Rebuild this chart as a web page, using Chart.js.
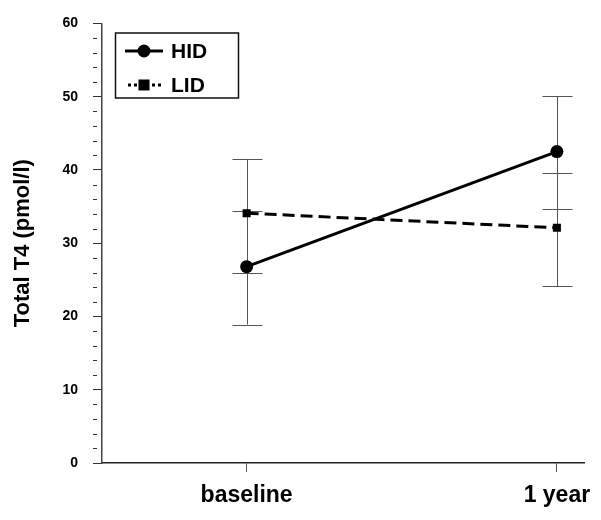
<!DOCTYPE html>
<html>
<head>
<meta charset="utf-8">
<script src="https://cdn.jsdelivr.net/npm/chart.js@4/dist/chart.umd.min.js"></script>
<style>
  html, body { margin: 0; padding: 0; background: #fff; }
  #wrap { width: 601px; height: 520px; }
</style>
</head>
<body>
<div id="wrap"><canvas id="c" width="601" height="520"></canvas></div>
<script>
// ---- data ----
const categories = ['baseline', '1 year'];
const seriesNames = ['HID', 'LID'];
const hidMean = [26.8, 42.5];
const hidLow  = [18.9, 34.6];
const hidHigh = [34.4, 50.1];
const lidMean = [34.1, 32.1];
const lidLow  = [26.0, 24.1];
const lidHigh = [41.5, 39.6];
const yMajorTicks = [0, 10, 20, 30, 40, 50, 60];
const yMinorStep = 2;

const FONT = '"Liberation Sans", Arial, sans-serif';

function toPoints(arr) { return arr.map((v, i) => ({ x: i, y: v })); }

const errorBars = [
  { low: hidLow, high: hidHigh },
  { low: lidLow, high: lidHigh }
];

const errorBarPlugin = {
  id: 'errorBars',
  beforeDatasetsDraw(chart) {
    const { ctx, scales: { x, y } } = chart;
    ctx.save();
    ctx.strokeStyle = '#555';
    ctx.lineWidth = 1;
    errorBars.forEach(eb => {
      eb.low.forEach((lo, i) => {
        const px = Math.round(x.getPixelForValue(i)) + 0.5;
        const pl = y.getPixelForValue(lo);
        const ph = y.getPixelForValue(eb.high[i]);
        ctx.beginPath();
        ctx.moveTo(px, pl); ctx.lineTo(px, ph);
        ctx.moveTo(px - 15, Math.round(pl) + 0.5); ctx.lineTo(px + 15, Math.round(pl) + 0.5);
        ctx.moveTo(px - 15, Math.round(ph) + 0.5); ctx.lineTo(px + 15, Math.round(ph) + 0.5);
        ctx.stroke();
      });
    });
    ctx.restore();
  }
};

const minorTickPlugin = {
  id: 'minorTicks',
  afterDraw(chart) {
    const { ctx, scales: { y } } = chart;
    ctx.save();
    ctx.strokeStyle = '#333';
    ctx.lineWidth = 1;
    for (let v = y.min; v <= y.max; v += yMinorStep) {
      if (yMajorTicks.includes(v)) continue;
      const py = Math.round(y.getPixelForValue(v)) + 0.5;
      ctx.beginPath();
      ctx.moveTo(y.right - 9, py);
      ctx.lineTo(y.right - 5, py);
      ctx.stroke();
    }
    ctx.restore();
  }
};

const boxLegendPlugin = {
  id: 'boxLegend',
  afterDraw(chart) {
    const { ctx } = chart;
    ctx.save();
    ctx.strokeStyle = '#111';
    ctx.lineWidth = 1.5;
    ctx.strokeRect(115.5, 33, 123, 65);
    const rows = [
      { y: 51, dash: [], x0: 125, x1: 163, style: 'circle', r: 5 },
      { y: 85, dash: [3, 3], x0: 128, x1: 162, style: 'rect', r: 5.7 }
    ];
    chart.data.datasets.forEach((ds, i) => {
      const row = rows[i];
      ctx.strokeStyle = '#000';
      ctx.fillStyle = '#000';
      ctx.lineWidth = 3;
      ctx.setLineDash(row.dash);
      ctx.beginPath();
      ctx.moveTo(row.x0, row.y); ctx.lineTo(row.x1, row.y);
      ctx.stroke();
      ctx.setLineDash([]);
      Chart.helpers.drawPoint(ctx, { pointStyle: row.style, radius: row.r, borderWidth: 1 }, 144, row.y);
      ctx.font = 'bold 21px ' + FONT;
      ctx.textBaseline = 'middle';
      ctx.textAlign = 'left';
      ctx.fillText(ds.label, 171, row.y + 1);
    });
    ctx.restore();
  }
};

new Chart(document.getElementById('c'), {
  type: 'line',
  data: {
    datasets: [
      {
        label: seriesNames[0],
        data: toPoints(hidMean),
        borderColor: '#000',
        backgroundColor: '#000',
        borderWidth: 3,
        pointStyle: 'circle',
        pointRadius: 6.5,
        pointBorderWidth: 0,
        pointBackgroundColor: '#000'
      },
      {
        label: seriesNames[1],
        data: toPoints(lidMean),
        borderColor: '#000',
        backgroundColor: '#000',
        borderWidth: 3,
        borderDash: [12, 6],
        pointStyle: 'rect',
        pointRadius: 5.7,
        pointBorderWidth: 0,
        pointBackgroundColor: '#000'
      }
    ]
  },
  options: {
    responsive: false,
    animation: false,
    layout: { padding: { top: 19, right: 15, left: 0, bottom: 0 } },
    plugins: { legend: { display: false }, tooltip: { enabled: false } },
    scales: {
      x: {
        type: 'linear',
        min: -0.4662,
        max: 1.09,
        afterBuildTicks(scale) { scale.ticks = categories.map((c, i) => ({ value: i })); },
        afterFit(scale) { scale.height = 57; },
        ticks: {
          callback: (v) => categories[v] ?? '',
          color: '#000',
          font: { family: FONT, size: 23, weight: 'bold' },
          padding: 10,
          maxRotation: 0,
          autoSkip: false
        },
        grid: { drawOnChartArea: false, tickLength: 9, tickColor: '#555' },
        border: { color: '#222', width: 1.5 }
      },
      y: {
        min: 0,
        max: 60,
        afterBuildTicks(scale) { scale.ticks = yMajorTicks.map(v => ({ value: v })); },
        afterFit(scale) { scale.width = 102; },
        ticks: {
          color: '#000',
          font: { family: FONT, size: 14, weight: 'bold' },
          padding: 15
        },
        grid: { drawOnChartArea: false, tickLength: 9, tickColor: '#333' },
        border: { color: '#444', width: 1.5 },
        title: {
          display: true,
          text: 'Total T4 (pmol/l)',
          color: '#000',
          font: { family: FONT, size: 22, weight: 'bold' },
          padding: { top: 10, bottom: 0 }
        }
      }
    }
  },
  plugins: [errorBarPlugin, minorTickPlugin, boxLegendPlugin]
});
</script>
</body>
</html>
